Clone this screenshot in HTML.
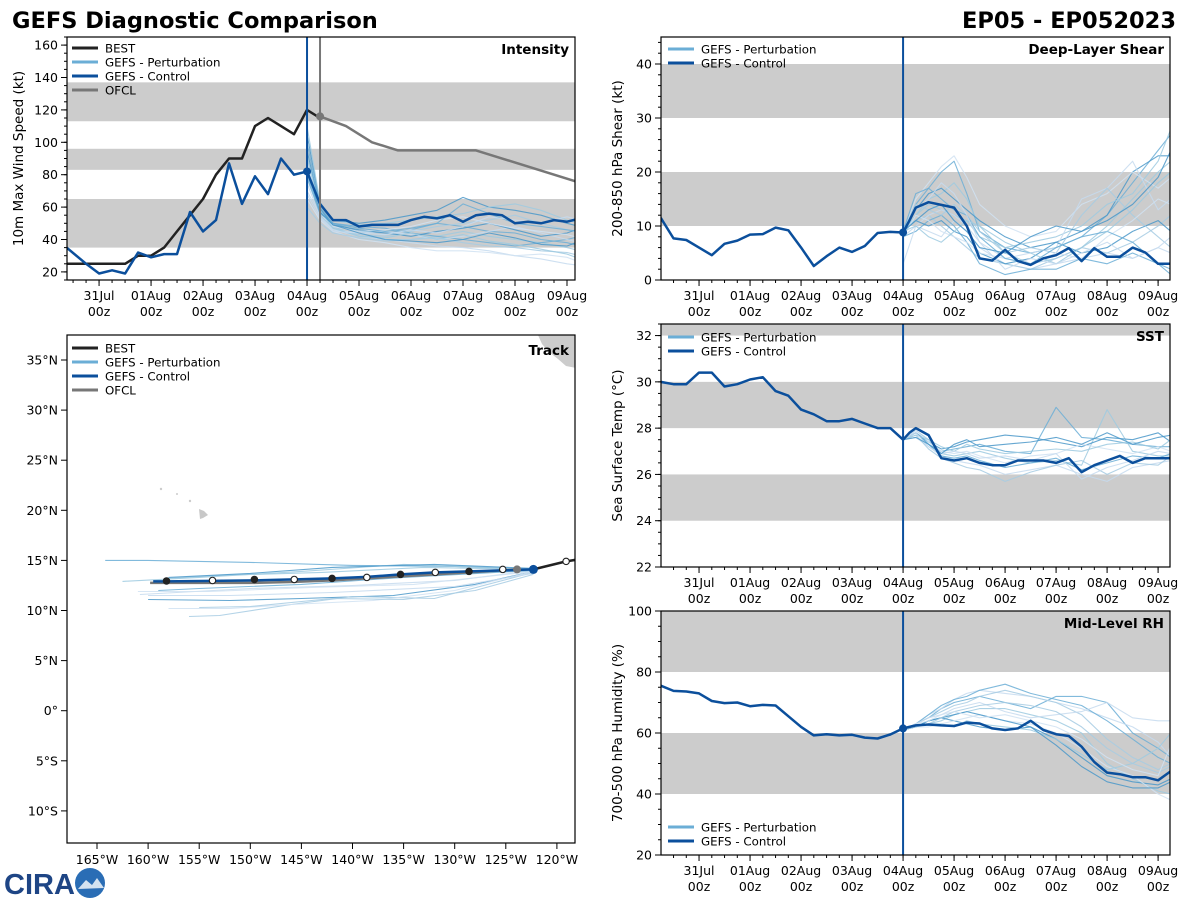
<!DOCTYPE html>
<html><head><meta charset="utf-8"><style>
html,body{margin:0;padding:0;background:#fff;}
svg{display:block;font-family:"DejaVu Sans","Liberation Sans",sans-serif;}
</style></head><body>
<svg id="fig" width="1200" height="900" viewBox="0 0 1200 900" xmlns="http://www.w3.org/2000/svg">
<text x="12" y="28" font-size="22.5" font-weight="bold">GEFS Diagnostic Comparison</text>
<text x="1176" y="28" font-size="22.5" font-weight="bold" text-anchor="end">EP05 - EP052023</text>
<g>
<text x="4" y="894" font-size="29" font-weight="bold" fill="#1e4585" font-family="Liberation Sans, sans-serif">CIRA</text>
<circle cx="90" cy="883" r="15" fill="#2a6db5"/>
<path d="M78 889 L86 880 L92 885 L97 878 L104 888 Z" fill="#fff" opacity="0.8"/>
</g>
</svg>
<script>
// ---------------- DATA ----------------
// hours relative to 31Jul 00z
const bestTimes = [-18,-12,-6,0,6,12,18,24,30,36,42,48,54,60,66,72,78,84,90,96,102];
const bestVmax = [25,25,25,25,25,25,30,30,35,45,55,65,80,90,90,110,115,110,105,120,115];
const ofclTimes = [102,114,126,138,150,162,174,222];
const ofclVmax = [116,110,100,95,95,95,95,75];
const ctrlIntTimes = [-15,-6,0,6,12,18,24,30,36,42,48,54,60,66,72,78,84,90,96,102,108,114,120,126,132,138,144,150,156,162,168,174,180,186,192,198,204,210,216,222];
const ctrlIntVals = [35,25,19,21,19,32,29,31,31,57,45,52,87,62,79,68,90,80,82,62,52,52,48,49,49,49,52,54,53,55,51,55,56,55,50,51,50,52,51,53];
const ensIntTimes = [96,102,108,120,132,144,156,168,180,192,204,216,222];
const ensInt1 = [100,60,50,45,44,46,50,48,45,44,40,38,36];
const ensInt2 = [85,58,48,42,40,40,42,45,42,40,38,35,33];
const ensInt3 = [70,55,46,42,40,38,36,35,33,30,28,25,24];
const ensInt4 = [105,62,52,50,52,55,58,66,60,58,55,50,48];
const ensInt5 = [90,55,47,43,42,45,48,50,52,55,50,46,44];
const ensInt6 = [65,52,45,40,38,35,33,33,32,30,31,29,26];
const ensInt7 = [80,57,50,48,47,44,42,40,38,36,38,40,42];
const ensInt8 = [110,63,52,49,50,52,54,56,60,62,58,52,50];
const ensInt9 = [75,54,46,44,45,43,40,42,45,48,44,40,38];
const ensInt10 = [95,59,49,46,44,42,45,47,50,46,42,44,47];
const ensInt11 = [60,50,44,41,39,40,41,38,36,35,33,32,30];
const ensInt12 = [88,56,48,45,46,48,52,54,50,47,45,43,41];
const ensInt13 = [78,56,50,47,45,47,50,62,56,50,48,46,45];
const ensInt14 = [92,58,47,42,41,44,40,43,39,37,34,31,28];
const ensInt15 = [68,53,45,44,43,46,44,48,54,52,50,54,52];
const ensInt16 = [84,57,49,44,40,39,38,40,44,41,37,36,39];

const anaTimes = [-18,-12,-6,0,6,12,18,24,30,36,42,48,54,60,66,72,78,84,90,96];
const fcTimes = [99,102,108,114,120,126,132,138,144,150,156,162,168,174,180,186,192,198,204,210,216,222];
const ensTimes = [96,102,108,114,120,126,132,144,156,168,180,192,204,216,222];

const shearAna = [11.5,7.7,7.4,6,4.6,6.7,7.3,8.4,8.5,9.7,9.2,6,2.6,4.4,6,5.2,6.3,8.7,8.9,8.8];
const shearFc = [11,13.4,14.4,13.9,13.4,10,4,3.6,5.6,3.5,2.8,4,4.6,5.9,3.5,5.9,4.3,4.3,6,5.1,3,3];
const shearEns1 = [9,14,17,20,22,16,9,6,5,6,8,12,18,24,27];
const shearEns2 = [9,12,15,16,18,15,10,5,3,4,6,10,15,20,22];
const shearEns3 = [8,10,9,8,11,9,6,3,2,3,4,5,4,6,5];
const shearEns4 = [9,13,16,17,15,13,11,8,6,7,9,12,20,23,23];
const shearEns5 = [10,11,12,10,8,6,4,3,2,4,6,5,7,10,12];
const shearEns6 = [9,15,18,21,23,19,14,10,8,9,14,16,20,17,19];
const shearEns7 = [8,9,11,12,10,7,3,1,2,2,4,3,5,3,2];
const shearEns8 = [9,12,14,13,12,11,8,6,7,8,10,14,16,22,28];
const shearEns9 = [3,10,12,13,12,10,7,4,5,6,15,17,22,13,15];
const shearEns10 = [9,11,10,11,9,8,5,3,4,7,5,6,9,11,9];
const shearEns11 = [9,14,13,12,14,12,9,5,6,5,12,17,12,8,6];
const shearEns12 = [8,12,11,9,8,7,5,4,3,5,4,8,11,15,14];
const shearEns13 = [9,16,17,15,13,12,8,4,3,6,8,9,7,3,1];
const shearEns14 = [9,10,8,7,9,11,10,7,5,3,6,9,13,18,20];
const shearEns15 = [9,13,15,18,16,12,7,2,4,3,5,7,4,6,8];
const shearEns16 = [9,11,13,14,11,9,6,5,8,10,9,11,14,19,24];

const sstAna = [30,29.9,29.9,30.4,30.4,29.8,29.9,30.1,30.2,29.6,29.4,28.8,28.6,28.3,28.3,28.4,28.2,28,28,27.5];
const sstFc = [27.8,28,27.7,26.7,26.6,26.7,26.5,26.4,26.4,26.6,26.6,26.6,26.5,26.7,26.1,26.4,26.6,26.8,26.5,26.7,26.7,26.7];
const sstEns1 = [27.5,27.8,27.3,27.0,27.1,27.2,27.3,27.0,26.9,28.9,27.6,27.5,27.3,27.2,27.2];
const sstEns2 = [27.5,27.9,27.5,26.9,26.8,26.9,27.0,26.7,26.5,26.6,26.4,28.8,27.0,26.8,26.8];
const sstEns3 = [27.5,27.6,27.2,26.8,26.6,26.5,26.4,26.0,26.2,26.4,26.0,25.7,26.3,26.5,26.6];
const sstEns4 = [27.5,27.8,27.4,27.1,27.2,27.4,27.5,27.7,27.6,27.4,27.2,27.6,27.5,27.8,27.4];
const sstEns5 = [27.5,27.7,27.1,26.7,26.5,26.3,26.2,25.7,26.1,26.4,26.6,26.0,26.5,26.4,26.8];
const sstEns6 = [27.5,27.9,27.4,27.0,26.9,27.0,26.8,26.5,26.8,26.9,27.3,27.1,26.9,27.2,27.0];
const sstEns7 = [27.5,27.8,27.3,26.8,26.7,26.8,26.6,26.3,26.5,26.7,26.2,26.5,26.8,26.7,26.9];
const sstEns8 = [27.5,27.7,27.5,27.2,27.0,27.3,27.1,26.9,27.0,27.1,27.0,27.3,27.4,27.1,27.5];
const sstEns9 = [27.5,27.8,27.2,26.9,27.0,26.9,26.7,26.8,26.6,26.9,25.8,26.3,26.6,27.0,26.9];
const sstEns10 = [27.5,27.6,27.3,26.9,27.3,27.5,27.2,27.3,27.4,27.6,27.3,27.8,27.3,27.6,27.7];

const rhAna = [75.5,73.8,73.6,73,70.5,69.8,70,68.8,69.2,69,65.5,62,59.2,59.6,59.2,59.4,58.5,58.2,59.5,61.5];
const rhFc = [62,62.5,62.8,62.5,62.3,63.4,63.1,61.5,61,61.5,64,61,59.6,59,55.5,50.5,47,46.5,45.5,45.5,44.5,47.5];
const rhEns1 = [61,63,65,68,70,71,72,70,68,72,72,70,60,55,52];
const rhEns2 = [61,62,63,64,66,67,68,68,66,64,60,50,45,41,40];
const rhEns3 = [61,63,66,68,71,73,74,73,72,70,68,65,62,57,52];
const rhEns4 = [61,62,64,65,64,63,62,61,62,58,52,46,44,43,45];
const rhEns5 = [61,63,65,67,69,70,72,74,72,70,66,58,52,48,50];
const rhEns6 = [61,62,62,63,64,65,66,64,63,60,55,49,46,40,38];
const rhEns7 = [61,63,66,69,71,72,74,76,73,71,69,64,58,52,50];
const rhEns8 = [61,62,63,63,62,64,63,62,61,58,53,48,50,55,60];
const rhEns9 = [61,63,65,66,68,69,70,67,65,66,67,70,65,64,64];
const rhEns10 = [61,62,64,65,66,67,66,64,62,56,49,44,42,42,44];
const rhEns11 = [61,62,63,65,67,68,69,70,69,67,62,55,50,47,49];
const rhEns12 = [61,63,64,66,67,66,65,66,64,62,58,52,48,46,56];

// track
const ctrlTrackLon = [-122.3,-125.3,-128.6,-131.9,-135.3,-138.6,-142,-145.7,-149.6,-153.7,-158.2,-159.5];
const ctrlTrackLat = [14.1,14.0,13.9,13.8,13.6,13.35,13.2,13.1,13.0,12.95,12.9,12.9];
const ofclTrackLon = [-123.9,-125.3,-128.6,-131.9,-135.3,-138.6,-142,-145.7,-149.6,-153.7,-158.2,-159.8];
const ofclTrackLat = [14.1,14.0,13.8,13.6,13.4,13.2,13.0,12.85,12.75,12.75,12.75,12.75];
const bestTrackLon = [-122.3,-119.1,-117.9];
const bestTrackLat = [14.1,14.9,15.1];
const markLon = [-158.2,-153.7,-149.6,-145.7,-142,-138.6,-135.3,-131.9,-128.6,-125.3,-119.1];
const markLat = [12.95,13.0,13.1,13.1,13.2,13.3,13.6,13.8,13.9,14.1,14.9];
const trkEns1Lon = [-122.3,-130,-140,-150,-160,-164.2]; const trkEns1Lat = [14.1,14.4,14.5,14.8,15.0,15.0];
const trkEns2Lon = [-122.3,-135,-145,-155,-162.5]; const trkEns2Lat = [14.1,14.6,13.9,13.3,12.9];
const trkEns3Lon = [-122.3,-130,-140,-150,-160.8]; const trkEns3Lat = [14.0,13.0,12.5,12.2,11.6];
const trkEns4Lon = [-122.3,-128,-136,-145,-152,-160]; const trkEns4Lat = [13.9,12.6,11.5,11.2,11.0,11.1];
const trkEns5Lon = [-122.3,-132,-140,-146,-153,-156]; const trkEns5Lat = [13.8,11.2,11.4,10.6,9.5,9.4];
const trkEns6Lon = [-122.3,-130,-138,-146,-152,-158]; const trkEns6Lat = [13.9,12.0,11.0,10.6,10.2,10.2];
const trkEns7Lon = [-122.3,-135,-145,-155,-159]; const trkEns7Lat = [14.0,13.3,12.6,12.2,12.0];
const trkEns8Lon = [-122.3,-133,-143,-153,-158]; const trkEns8Lat = [14.1,14.3,13.8,13.5,13.2];
const trkEns9Lon = [-122.3,-130,-142,-152,-160]; const trkEns9Lat = [13.7,12.4,11.8,11.5,11.5];
const trkEns10Lon = [-122.3,-132,-142,-150,-158]; const trkEns10Lat = [14.2,14.6,14.3,13.7,13.3];
const trkEns11Lon = [-122.3,-128,-135,-142,-150,-155]; const trkEns11Lat = [13.6,12.0,11.1,11.2,10.4,10.3];
const trkEns12Lon = [-122.3,-134,-144,-154,-161]; const trkEns12Lat = [13.9,12.6,12.3,11.9,11.9];

const dayLabels = ['31Jul','01Aug','02Aug','03Aug','04Aug','05Aug','06Aug','07Aug','08Aug','09Aug'];

// ---------------- DRAWING ----------------
const NS='http://www.w3.org/2000/svg';
const svg=document.getElementById('fig');
const CTRL='#0b4f9c', ENSC=['#6baed6','#9ecae1','#c6dbef','#4a98c9','#a6cbe3','#d0e2f2'];
function mk(tag,attrs,parent){const e=document.createElementNS(NS,tag);for(const k in attrs)e.setAttribute(k,attrs[k]);(parent||svg).appendChild(e);return e;}
function poly(xs,ys,sx,sy,attrs,parent){const p=xs.map((v,i)=>sx(v).toFixed(1)+','+sy(ys[i]).toFixed(1)).join(' ');return mk('polyline',Object.assign({points:p,fill:'none','stroke-linejoin':'round'},attrs),parent);}
let clipN=0;
function panel(o){
  const g=mk('g',{});
  
  
  const sx=h=>o.x0+(h-o.h0)*(o.x1-o.x0)/(o.h1-o.h0);
  const sy=v=>o.y1-(v-o.v0)*(o.y1-o.y0)/(o.v1-o.v0);
  const id='c'+(clipN++);
  const cp=mk('clipPath',{id:id},g);mk('rect',{x:o.x0,y:o.y0,width:o.x1-o.x0,height:o.y1-o.y0},cp);
  const inner=mk('g',{'clip-path':'url(#'+id+')'},g);
  o.bands.forEach(b=>{const r=mk('rect',{x:o.x0,y:sy(b[1]),width:o.x1-o.x0,height:sy(b[0])-sy(b[1]),fill:'#cccccc'},inner);
    
    });
  return {g,inner,sx,sy};
}
function axesFrame(o,P,yMaj,yMin,yFmt){
  const {g,sx,sy}=P;
  mk('rect',{x:o.x0,y:o.y0,width:o.x1-o.x0,height:o.y1-o.y0,fill:'none',stroke:'#000','stroke-width':1.2},g);
  for(let v=yMin[0];v<=o.v1+1e-6;v+=yMin[1]){if(v<o.v0)continue;mk('line',{x1:o.x0-3,x2:o.x0,y1:sy(v),y2:sy(v),stroke:'#000'},g);}
  yMaj.forEach(v=>{mk('line',{x1:o.x0-6,x2:o.x0,y1:sy(v),y2:sy(v),stroke:'#000'},g);
    const t=mk('text',{x:o.x0-9,y:sy(v)+4.5,'font-size':12.5,'text-anchor':'end'},g);t.textContent=yFmt(v);
    
    });
  if(o.time){
    for(let h=-18;h<=o.h1;h+=6){if(h<o.h0)continue;mk('line',{x1:sx(h),x2:sx(h),y1:o.y1,y2:o.y1+3,stroke:'#000'},g);}
    dayLabels.forEach((d,i)=>{const x=sx(i*24);mk('line',{x1:x,x2:x,y1:o.y1,y2:o.y1+6,stroke:'#000'},g);
      const t=mk('text',{x:x,y:o.y1+20,'font-size':12.5,'text-anchor':'middle'},g);t.textContent=d;
      
      
      const t2=mk('text',{x:x,y:o.y1+36,'font-size':12.5,'text-anchor':'middle'},g);t2.textContent='00z';
      
      });
  }
  const yl=mk('text',{x:0,y:0,'font-size':13.5,'text-anchor':'middle',transform:`translate(${o.ylx},${(o.y0+o.y1)/2}) rotate(-90)`},g);
  yl.textContent=o.ylabel;
  
  
  const tt=mk('text',{x:o.x1-6,y:o.y0+17,'font-size':13.5,'font-weight':'bold','text-anchor':'end'},g);
  tt.textContent=o.title;
  
  
}
function legend(g,x,y,items){
  items.forEach((it,i)=>{const lg=mk('g',{},g);
    
    
    mk('line',{x1:x,x2:x+26,y1:y+i*14,y2:y+i*14,stroke:it[1],'stroke-width':3},lg);
    const t=mk('text',{x:x+33,y:y+i*14+4.5,'font-size':11.8},lg);t.textContent=it[0];});
}
function vline(P,o,h,color){const l=mk('line',{x1:P.sx(h),x2:P.sx(h),y1:o.y0,y2:o.y1,stroke:color,'stroke-width':2},P.g);return l;}

// Intensity
(function(){
 const o={name:'intensity-panel',x0:67,x1:575,y0:37,y1:280,h0:-14.8,h1:219.7,v0:15,v1:165,time:true,bands:[[35,65],[83,96],[113,137]],ylabel:'10m Max Wind Speed (kt)',ylx:23,title:'Intensity'};
 const P=panel(o);
 const ens=[ensInt1,ensInt2,ensInt3,ensInt4,ensInt5,ensInt6,ensInt7,ensInt8,ensInt9,ensInt10,ensInt11,ensInt12,ensInt13,ensInt14,ensInt15,ensInt16];
 ens.forEach((e,i)=>{const l=poly(ensIntTimes,e,P.sx,P.sy,{stroke:ENSC[i%6],'stroke-width':1.1,opacity:0.85},P.inner);
   
   });
 const of=poly(ofclTimes,ofclVmax,P.sx,P.sy,{stroke:'#777','stroke-width':2.5},P.inner);
 
 
 const b=poly(bestTimes,bestVmax,P.sx,P.sy,{stroke:'#222','stroke-width':2.5},P.inner);
 
 
 const c=poly(ctrlIntTimes,ctrlIntVals,P.sx,P.sy,{stroke:CTRL,'stroke-width':2.5},P.inner);
 
 
 vline(P,o,96,CTRL);vline(P,o,102,'#777');
 mk('circle',{cx:P.sx(96),cy:P.sy(ctrlIntVals[18]),r:4,fill:CTRL},P.g);
 mk('circle',{cx:P.sx(102),cy:P.sy(ofclVmax[0]),r:4,fill:'#777'},P.g);
 axesFrame(o,P,[20,40,60,80,100,120,140,160],[15,5],v=>v);
 legend(P.g,72,48,[['BEST','#222'],['GEFS - Perturbation','#6baed6'],['GEFS - Control',CTRL],['OFCL','#777']]);
})();

function envPanel(o,ana,fc,ens,dotVal,legY){
 const P=panel(o);
 ens.forEach((e,i)=>{const l=poly(ensTimes,e,P.sx,P.sy,{stroke:ENSC[i%6],'stroke-width':1.1,opacity:0.85},P.inner);
   
   });
 const c1=poly(anaTimes,ana,P.sx,P.sy,{stroke:CTRL,'stroke-width':2.5},P.inner);
 
 
 const c2=poly([96].concat(fcTimes),[ana[ana.length-1]].concat(fc),P.sx,P.sy,{stroke:CTRL,'stroke-width':2.5},P.inner);
 
 
 vline(P,o,96,CTRL);
 if(dotVal!==null) mk('circle',{cx:P.sx(96),cy:P.sy(dotVal),r:4,fill:CTRL},P.g);
 axesFrame(o,P,o.yMaj,o.yMin,o.fmt);
 legend(P.g,o.x0+7,legY,[['GEFS - Perturbation','#6baed6'],['GEFS - Control',CTRL]]);
}
envPanel({name:'shear-panel',x0:661,x1:1170,y0:37,y1:280,h0:-17.9,h1:221.6,v0:0,v1:45,time:true,bands:[[10,20],[30,40]],ylabel:'200-850 hPa Shear (kt)',ylx:622,title:'Deep-Layer Shear',yMaj:[0,10,20,30,40],yMin:[0,2],fmt:v=>v},
 shearAna,shearFc,[shearEns1,shearEns2,shearEns3,shearEns4,shearEns5,shearEns6,shearEns7,shearEns8,shearEns9,shearEns10,shearEns11,shearEns12,shearEns13,shearEns14,shearEns15,shearEns16],shearAna[19],49);
envPanel({name:'sst-panel',x0:661,x1:1170,y0:324,y1:567,h0:-17.9,h1:221.6,v0:22,v1:32.5,time:true,bands:[[24,26],[28,30],[32,34]],ylabel:'Sea Surface Temp (°C)',ylx:622,title:'SST',yMaj:[22,24,26,28,30,32],yMin:[22,0.5],fmt:v=>v},
 sstAna,sstFc,[sstEns1,sstEns2,sstEns3,sstEns4,sstEns5,sstEns6,sstEns7,sstEns8,sstEns9,sstEns10],null,337);
envPanel({name:'rh-panel',x0:661,x1:1170,y0:611,y1:855,h0:-17.9,h1:221.6,v0:20,v1:100,time:true,bands:[[40,60],[80,100]],ylabel:'700-500 hPa Humidity (%)',ylx:622,title:'Mid-Level RH',yMaj:[20,40,60,80,100],yMin:[20,5],fmt:v=>v},
 rhAna,rhFc,[rhEns1,rhEns2,rhEns3,rhEns4,rhEns5,rhEns6,rhEns7,rhEns8,rhEns9,rhEns10,rhEns11,rhEns12],rhAna[19],827);

// Track
(function(){
 const o={x0:67,x1:575,y0:335,y1:843};
 const g=mk('g',{});
 
 
 const sx=lon=>97+(lon+165)*10.22;
 const sy=lat=>360+(35-lat)*10.02;
 const cp=mk('clipPath',{id:'trk'},g);
 mk('rect',{x:o.x0,y:o.y0,width:o.x1-o.x0,height:o.y1-o.y0},cp);
 const inner=mk('g',{'clip-path':'url(#trk)'},g);
 const land=mk('polygon',{points:'538,335 576,335 576,368 566,366 558,359 549,352 542,344',fill:'#cccccc'},inner);
 
 
 const hi=mk('g',{fill:'#cccccc'},inner);
 
 
 mk('circle',{cx:161,cy:489,r:1.2},hi);mk('circle',{cx:177,cy:494,r:1},hi);mk('circle',{cx:190,cy:501,r:1.2},hi);
 mk('polygon',{points:'199,509 204,511 208,515 203,518 200,519',fill:'#c8c8c8'},hi);
 const tens=[[trkEns1Lon,trkEns1Lat],[trkEns2Lon,trkEns2Lat],[trkEns3Lon,trkEns3Lat],[trkEns4Lon,trkEns4Lat],[trkEns5Lon,trkEns5Lat],[trkEns6Lon,trkEns6Lat],[trkEns7Lon,trkEns7Lat],[trkEns8Lon,trkEns8Lat],[trkEns9Lon,trkEns9Lat],[trkEns10Lon,trkEns10Lat],[trkEns11Lon,trkEns11Lat],[trkEns12Lon,trkEns12Lat]];
 tens.forEach((e,i)=>{const l=poly(e[0],e[1],sx,sy,{stroke:ENSC[i%6],'stroke-width':1.1,opacity:0.85},inner);
   
   });
 const of=poly(ofclTrackLon,ofclTrackLat,sx,sy,{stroke:'#777','stroke-width':2.5},inner);
 
 
 const c=poly(ctrlTrackLon,ctrlTrackLat,sx,sy,{stroke:CTRL,'stroke-width':2.5},inner);
 
 
 const b=poly(bestTrackLon,bestTrackLat,sx,sy,{stroke:'#222','stroke-width':2.5},inner);
 
 
 markLon.forEach((lon,i)=>{const m=mk('circle',{cx:sx(lon),cy:sy(markLat[i]),r:3.2,fill:(i%2===0&&i<10)?'#222':'#fff',stroke:'#222','stroke-width':1.1},inner);
   
   });
 mk('circle',{cx:sx(ofclTrackLon[0]),cy:sy(ofclTrackLat[0]),r:4,fill:'#777'},inner);
 mk('circle',{cx:sx(ctrlTrackLon[0]),cy:sy(ctrlTrackLat[0]),r:4.5,fill:CTRL},inner);
 mk('rect',{x:o.x0,y:o.y0,width:o.x1-o.x0,height:o.y1-o.y0,fill:'none',stroke:'#000','stroke-width':1.2},g);
 for(let lon=-165;lon<=-120;lon+=5){const x=sx(lon);mk('line',{x1:x,x2:x,y1:o.y1,y2:o.y1+6,stroke:'#000'},g);
   const t=mk('text',{x:x,y:o.y1+21,'font-size':12.5,'text-anchor':'middle'},g);t.textContent=(-lon)+'°W';
   
   }
 for(let lat=-10;lat<=35;lat+=5){const y=sy(lat);mk('line',{x1:o.x0-6,x2:o.x0,y1:y,y2:y,stroke:'#000'},g);
   const t=mk('text',{x:o.x0-9,y:y+4.5,'font-size':12.5,'text-anchor':'end'},g);t.textContent=lat===0?'0°':(Math.abs(lat)+'°'+(lat>0?'N':'S'));
   
   }
 const tt=mk('text',{x:o.x1-6,y:o.y0+20,'font-size':13.5,'font-weight':'bold','text-anchor':'end'},g);tt.textContent='Track';
 
 
 legend(g,72,348,[['BEST','#222'],['GEFS - Perturbation','#6baed6'],['GEFS - Control',CTRL],['OFCL','#777']]);
})();
</script>
</body></html>
